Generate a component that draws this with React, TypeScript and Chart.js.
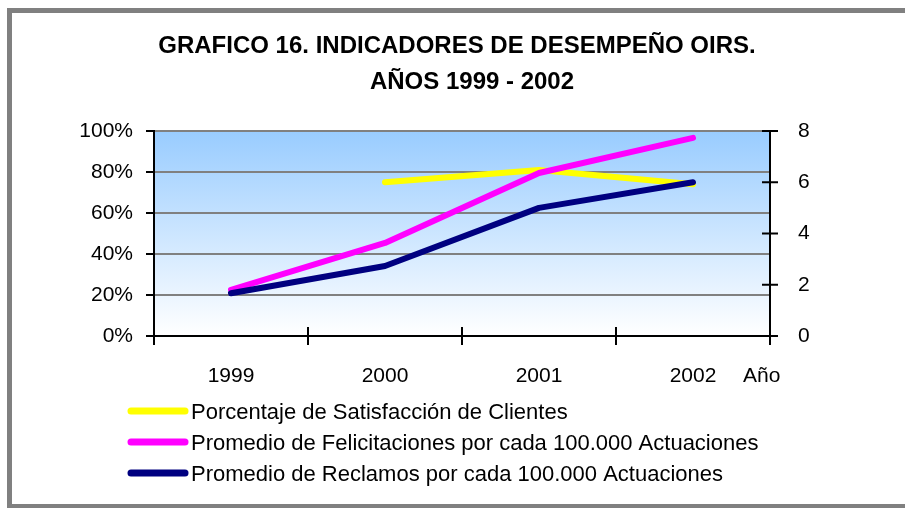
import React, { useEffect, useRef } from "react";
import { Chart, registerables } from "chart.js";

Chart.register(...registerables);

const categories = ["1999", "2000", "2001", "2002"];
const satisfaccion = [null, 75, 81, 74];
const felicitaciones = [1.8, 3.63, 6.36, 7.73];
const reclamos = [1.67, 2.73, 5.0, 6.0];
const seriesNames = [
  "Porcentaje de Satisfacción de Clientes",
  "Promedio de Felicitaciones por cada 100.000 Actuaciones",
  "Promedio de Reclamos por cada 100.000 Actuaciones",
];
const seriesColors = ["#FFFF00", "#FF00FF", "#000080"];
const titleLines = ["GRAFICO 16. INDICADORES DE DESEMPEÑO OIRS.", "AÑOS 1999 - 2002"];
const xAxisName = "Año";

const FONT = "'Liberation Sans', Arial, sans-serif";

const decorPlugin = {
  id: "decor",
  beforeDraw(chart: any) {
    const { ctx, chartArea } = chart;
    ctx.save();
    ctx.fillStyle = "#ffffff";
    ctx.fillRect(0, 0, chart.width, chart.height);
    const g = ctx.createLinearGradient(0, chartArea.top, 0, chartArea.bottom);
    g.addColorStop(0, "#99CCFF");
    g.addColorStop(1, "#FFFFFF");
    ctx.fillStyle = g;
    ctx.fillRect(chartArea.left, chartArea.top, chartArea.right - chartArea.left, chartArea.bottom - chartArea.top);
    ctx.restore();
  },
  afterDraw(chart: any) {
    const { ctx, chartArea } = chart;
    ctx.save();
    // frame
    ctx.fillStyle = "#808080";
    ctx.fillRect(7, 8, 5, 505);
    ctx.fillRect(7, 8, 900, 5);
    ctx.fillRect(7, 504, 900, 5);
    // title
    ctx.fillStyle = "#000";
    ctx.font = `bold 24px ${FONT}`;
    ctx.textAlign = "center";
    ctx.textBaseline = "alphabetic";
    ctx.fillText(titleLines[0], 457, 53);
    ctx.fillText(titleLines[1], 472, 89);
    // x ticks crossing axis
    ctx.strokeStyle = "#000";
    ctx.lineWidth = 2;
    const n = categories.length;
    for (let i = 0; i <= n; i++) {
      const x = chartArea.left + ((chartArea.right - chartArea.left) * i) / n;
      ctx.beginPath();
      ctx.moveTo(x, chartArea.bottom - 9);
      ctx.lineTo(x, chartArea.bottom + 9);
      ctx.stroke();
    }
    // right axis ticks crossing
    const y1 = chart.scales.y1;
    y1.ticks.forEach((t: any) => {
      const y = y1.getPixelForValue(t.value);
      ctx.beginPath();
      ctx.moveTo(chartArea.right - 8, y);
      ctx.lineTo(chartArea.right + 8, y);
      ctx.stroke();
    });
    // axis name
    ctx.font = `21px ${FONT}`;
    ctx.textAlign = "left";
    ctx.fillText(xAxisName, 743, 382);
    // legend
    ctx.font = `22px ${FONT}`;
    ctx.textBaseline = "alphabetic";
    seriesNames.forEach((name, i) => {
      const cy = 411 + i * 31;
      ctx.strokeStyle = seriesColors[i];
      ctx.lineWidth = 7;
      ctx.lineCap = "round";
      ctx.beginPath();
      ctx.moveTo(131, cy);
      ctx.lineTo(185, cy);
      ctx.stroke();
      ctx.fillStyle = "#000";
      ctx.fillText(name, 191, cy + 8);
    });
    ctx.restore();
  },
};

export default function App() {
  const ref = useRef<HTMLCanvasElement>(null);
  useEffect(() => {
    if (!ref.current) return;
    const lineStyle = {
      borderWidth: 6,
      borderCapStyle: "round",
      borderJoinStyle: "round",
      pointRadius: 0,
      tension: 0,
      fill: false,
    };
    const chart = new Chart(ref.current, {
      type: "line",
      data: {
        labels: categories,
        datasets: [
          { ...lineStyle, label: seriesNames[0], data: satisfaccion, borderColor: seriesColors[0], backgroundColor: seriesColors[0], yAxisID: "y", order: 3 },
          { ...lineStyle, label: seriesNames[1], data: felicitaciones, borderColor: seriesColors[1], backgroundColor: seriesColors[1], yAxisID: "y1", order: 2 },
          { ...lineStyle, label: seriesNames[2], data: reclamos, borderColor: seriesColors[2], backgroundColor: seriesColors[2], yAxisID: "y1", order: 1 },
        ] as any,
      },
      options: {
        animation: false,
        responsive: false,
        layout: { padding: { top: 131, bottom: 112, left: 0, right: 0 } },
        plugins: { legend: { display: false }, title: { display: false }, tooltip: { enabled: false } },
        scales: {
          x: {
            offset: true,
            grid: { display: false },
            border: { display: true, color: "#000", width: 2 },
            ticks: { color: "#000", font: { family: FONT, size: 21 }, padding: 20, maxRotation: 0 },
            afterFit: (s: any) => { s.height = 60; },
          },
          y: {
            position: "left",
            min: 0,
            max: 100,
            ticks: { stepSize: 20, color: "#000", font: { family: FONT, size: 21 }, padding: 13, callback: (v: any) => v + "%" },
            grid: { color: "#808080", lineWidth: 2, drawTicks: true, tickLength: 8, tickColor: "#000", tickWidth: 2 },
            border: { display: true, color: "#000", width: 2 },
            afterFit: (s: any) => { s.width = 154; },
          },
          y1: {
            position: "right",
            min: 0,
            max: 8,
            ticks: { stepSize: 2, color: "#000", font: { family: FONT, size: 21 }, padding: 20 },
            grid: { display: false, drawOnChartArea: false },
            border: { display: true, color: "#000", width: 2 },
            afterFit: (s: any) => { s.width = 135; },
          },
        },
      } as any,
      plugins: [decorPlugin],
    });
    return () => chart.destroy();
  }, []);
  return (
    <div style={{ position: "fixed", left: 0, top: 0, width: 905, height: 508 }}>
      <canvas ref={ref} width={905} height={508} style={{ display: "block" }} />
    </div>
  );
}
